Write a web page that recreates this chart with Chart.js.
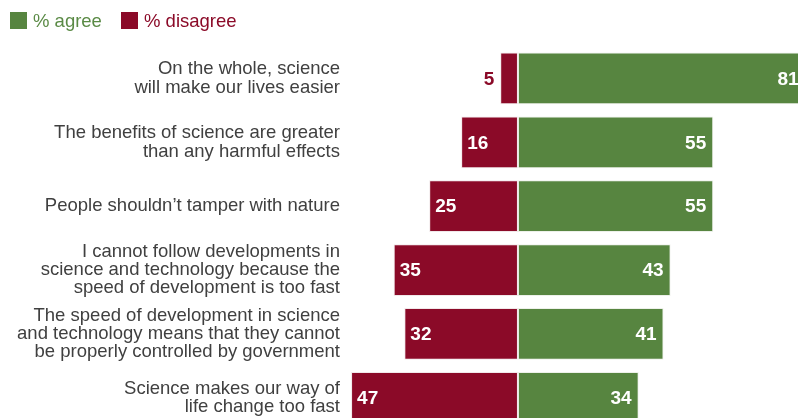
<!DOCTYPE html>
<html>
<head>
<meta charset="utf-8">
<script src="https://cdn.jsdelivr.net/npm/chart.js@4/dist/chart.umd.min.js"></script>
<style>
  html, body { margin: 0; padding: 0; background: #fff; overflow: hidden; width: 798px; height: 418px; }
  #wrap { position: relative; width: 798px; height: 418px; overflow: hidden; }
  #chart { position: absolute; left: 0; top: 0; }
  .lg { position: absolute; top: 12px; height: 17px; display: flex; align-items: center;
        font-family: 'Liberation Sans', Arial, sans-serif; font-size: 18.5px; white-space: nowrap; }
  .lg .box { width: 17px; height: 17px; margin-right: 6px; }
</style>
</head>
<body>
<div id="wrap">
  <canvas id="chart" width="810" height="458"></canvas>
  <div class="lg" style="left:10px; color:#5a8a45;"><span class="box" style="background:#578540;"></span>% agree</div>
  <div class="lg" style="left:121px; color:#8b0a28;"><span class="box" style="background:#8b0a28;"></span>% disagree</div>
</div>
<script>
// 데이터
const categories = [
  ['On the whole, science', 'will make our lives easier'],
  ['The benefits of science are greater', 'than any harmful effects'],
  ['People shouldn\u2019t tamper with nature'],
  ['I cannot follow developments in', 'science and technology because the', 'speed of development is too fast'],
  ['The speed of development in science', 'and technology means that they cannot', 'be properly controlled by government'],
  ['Science makes our way of', 'life change too fast']
];
const agree = [81, 55, 55, 43, 41, 34];
const disagree = [5, 16, 25, 35, 32, 47];

const GREEN = '#578540';
const RED = '#8b0a28';

// 막대 안/밖에 값 표시
const valueLabels = {
  id: 'valueLabels',
  afterDatasetsDraw(chart) {
    const ctx = chart.ctx;
    ctx.save();
    ctx.font = 'bold 19px "Liberation Sans", Arial, sans-serif';
    ctx.textBaseline = 'middle';
    chart.data.datasets.forEach((ds, i) => {
      const meta = chart.getDatasetMeta(i);
      meta.data.forEach((bar, j) => {
        const v = ds.data[j];
        const txt = String(Math.abs(v));
        const tw = ctx.measureText(txt).width;
        const w = Math.abs(bar.x - bar.base);
        const y = bar.y + 1;
        if (v < 0) {
          if (tw + 12 < w) {
            ctx.fillStyle = '#fff';
            ctx.textAlign = 'left';
            ctx.fillText(txt, bar.x + 6, y);
          } else {
            ctx.fillStyle = RED;
            ctx.textAlign = 'right';
            ctx.fillText(txt, bar.x - 6, y);
          }
        } else {
          ctx.fillStyle = '#fff';
          ctx.textAlign = 'right';
          ctx.fillText(txt, bar.x - 7, y);
        }
      });
    });
    ctx.restore();
  }
};

new Chart(document.getElementById('chart'), {
  type: 'bar',
  data: {
    labels: categories,
    datasets: [
      {
        label: '% agree',
        data: agree,
        backgroundColor: GREEN,
        borderColor: 'rgba(235,240,232,0.9)',
        borderWidth: 1,
        borderSkipped: false
      },
      {
        label: '% disagree',
        data: disagree.map(v => -v),
        backgroundColor: RED,
        borderColor: 'rgba(240,230,232,0.9)',
        borderWidth: 1,
        borderSkipped: false
      }
    ]
  },
  options: {
    indexAxis: 'y',
    responsive: false,
    animation: false,
    devicePixelRatio: 1,
    layout: { padding: { top: 46.5, left: 0, right: 0, bottom: 0 } },
    datasets: { bar: { categoryPercentage: 1, barPercentage: 0.81 } },
    plugins: {
      legend: { display: false },
      tooltip: { enabled: false }
    },
    scales: {
      x: { display: false, stacked: true, min: -47.3, max: 82.25 },
      y: {
        stacked: true,
        grid: { display: false, drawTicks: false },
        border: { display: false },
        ticks: {
          padding: 10,
          color: '#404040',
          font: { family: '"Liberation Sans", Arial, sans-serif', size: 18.5, lineHeight: 0.99 }
        },
        afterFit(scale) { scale.width = 350; }
      }
    }
  },
  plugins: [valueLabels]
});
</script>
</body>
</html>
